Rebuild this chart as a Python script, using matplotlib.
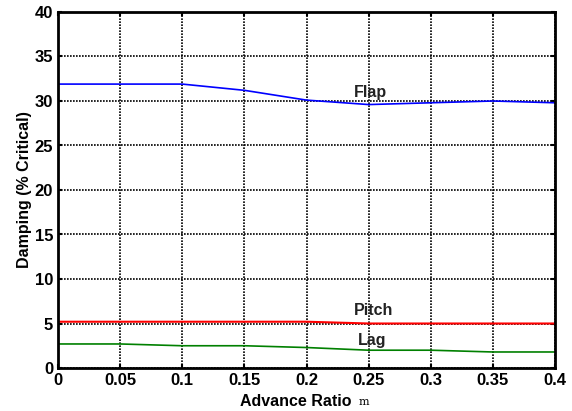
import numpy as np
import matplotlib.pyplot as plt

plt.rcParams['font.family'] = ['Liberation Sans', 'DejaVu Sans']
plt.rcParams['font.weight'] = 'bold'

mu = [0, 0.05, 0.1, 0.15, 0.2, 0.25, 0.3, 0.35, 0.4]
flap = [31.9, 31.9, 31.9, 31.2, 30.1, 29.6, 29.8, 30.0, 29.8]
pitch = [5.2, 5.2, 5.2, 5.2, 5.2, 5.0, 5.0, 5.0, 5.0]
lag = [2.7, 2.7, 2.5, 2.5, 2.3, 2.0, 2.0, 1.8, 1.8]

xticks = [0, 0.05, 0.1, 0.15, 0.2, 0.25, 0.3, 0.35, 0.4]
xlabels = ['0', '0.05', '0.1', '0.15', '0.2', '0.25', '0.3', '0.35', '0.4']
yticks = [0, 5, 10, 15, 20, 25, 30, 35, 40]

fig = plt.figure(figsize=(5.72, 4.11), dpi=100)
ax = fig.add_axes([58/572, 1-368/411, 497/572, 356/411])

ax.plot(mu, flap, color='#0000ff', linewidth=1.2)
ax.plot(mu, pitch, color='#ff0000', linewidth=1.5)
ax.plot(mu, lag, color='#008000', linewidth=1.2)

ax.text(0.2385, 30.4, 'Flap', fontsize=11.5, fontweight='bold', color='#222222')
ax.text(0.2385, 5.9, 'Pitch', fontsize=11.5, fontweight='bold', color='#222222')
ax.text(0.241, 2.6, 'Lag', fontsize=11.5, fontweight='bold', color='#222222')

ax.set_xlim(0, 0.4)
ax.set_ylim(0, 40)
ax.set_xticks(xticks)
ax.set_xticklabels(xlabels)
ax.set_yticks(yticks)
ax.grid(True, color='black', linestyle=(0, (1, 0.8)), linewidth=1.2)
ax.tick_params(labelsize=12, direction='in', length=3, width=1.5, top=True, right=True)
for lab in ax.get_xticklabels() + ax.get_yticklabels():
    lab.set_fontweight('bold')
for s in ax.spines.values():
    s.set_linewidth(2)

ax.set_ylabel('Damping (% Critical)', fontsize=11.5, fontweight='bold', labelpad=2)
fig.text(296/572, 0.012, 'Advance Ratio', ha='center', fontsize=11.5, fontweight='bold')
fig.text(359/572, 0.014, 'm', ha='left', fontsize=8, family='DejaVu Serif', fontweight='normal')

fig.savefig('out.png', dpi=100)
